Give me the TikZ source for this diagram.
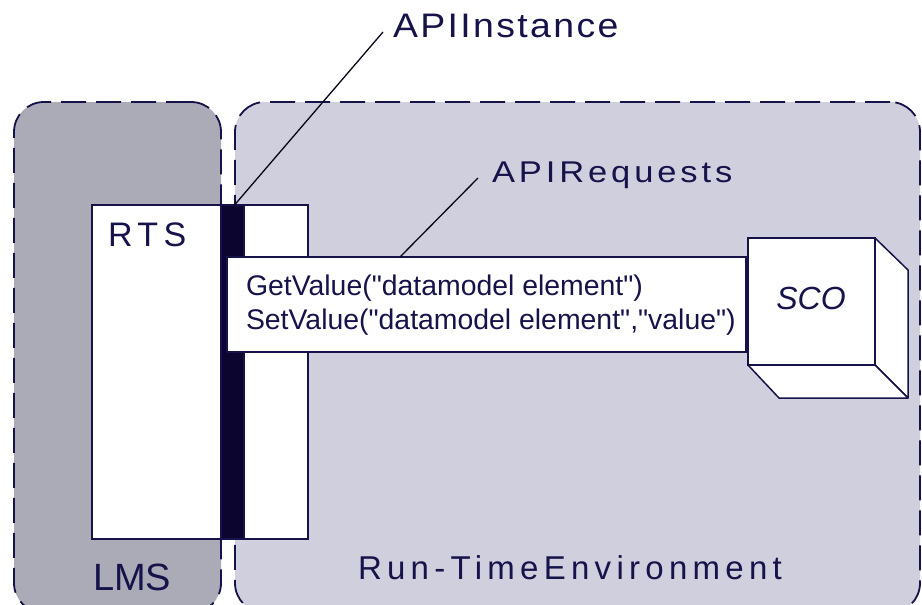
\documentclass[tikz,border=0pt]{standalone}
\usepackage{fontspec}
\setmainfont{Liberation Sans}
\newfontfamily\rawsans{Liberation Sans}
\definecolor{navy}{HTML}{16124A}
\definecolor{lmsfill}{HTML}{ABABB8}
\definecolor{rtefill}{HTML}{CFCFDD}
\definecolor{barfill}{HTML}{0B0530}
\begin{document}
\begin{tikzpicture}[x=1pt,y=-1pt,
 envbox/.style={draw=navy, line width=1.8pt, dash pattern=on 25pt off 10pt, rounded corners=30pt, inner sep=0pt, outer sep=0pt, anchor=north west},
 plainbox/.style={draw=navy, line width=1.5pt, fill=white, inner sep=0pt, outer sep=0pt, anchor=north west},
 lbl/.style={text=navy, inner sep=0pt, outer sep=0pt, anchor=base west},
 leader/.style={draw=black!70!navy, line width=1.3pt}]
\useasboundingbox (0,0) rectangle (922,605);
\clip (0,0) rectangle (922,605);
\fill[white] (0,0) rectangle (922,605);
% environments
\node[envbox, fill=lmsfill, minimum width=207pt, minimum height=511pt] (lms) at (14,102) {};
\node[envbox, fill=rtefill, minimum width=685pt, minimum height=511pt] (rte) at (235,102) {};
% RTS box and API instance bar
\node[plainbox, minimum width=216pt, minimum height=334pt] (rts) at (92,205) {};
\node[plainbox, fill=barfill, minimum width=23pt, minimum height=334pt] (bar) at (221,205) {};
% request box
\node[plainbox, minimum width=519pt, minimum height=95pt] (req) at (227,257) {};
% SCO cube
\node[plainbox, minimum width=127pt, minimum height=127pt] (sco) at (748,238) {};
\draw[navy, line width=1.5pt, fill=white, line join=round] (sco.north east) -- ++(33,32) -- ++(0,128) -- (sco.south east) -- cycle;
\draw[navy, line width=1.5pt, fill=white, line join=round] (sco.south west) -- (sco.south east) -- ++(33,33) -- ++(-129,0) -- cycle;
% labels
\node[lbl, font=\fontsize{34}{40}\selectfont\addfontfeature{FakeStretch=1.1,LetterSpace=7}] (apiinst) at (393,37) {APIInstance};
\node[lbl, font=\fontsize{30}{36}\selectfont\addfontfeature{FakeStretch=1.15,LetterSpace=13}] (apireq) at (492,182) {APIRequests};
\node[lbl, font=\fontsize{34}{40}\selectfont\addfontfeature{LetterSpace=16}] (rtslbl) at (108,246) {RTS};
\node[lbl, font=\fontsize{38}{44}\selectfont] (lmslbl) at (93,590) {LMS};
\node[lbl, font=\fontsize{33}{40}\selectfont\addfontfeature{LetterSpace=16}] (rtelbl) at (358,579) {Run-TimeEnvironment};
\node[lbl, font=\rawsans\fontsize{28.4}{34}\selectfont] (getv) at (246,295) {GetValue("datamodel element")};
\node[lbl, font=\rawsans\fontsize{28.4}{34}\selectfont] (setv) at (246,329) {SetValue("datamodel element","value")};
\node[text=navy, inner sep=0pt, anchor=base, font=\fontsize{32}{38}\selectfont\itshape] (scolbl) at (811,309) {SCO};
% leader lines
\coordinate (instEnd) at (383,32);
\coordinate (reqEnd) at (478,178);
\coordinate (reqStart) at (400,257);
\draw[leader] ([xshift=2pt]bar.north) -- (instEnd);
\draw[leader] (reqStart) -- (reqEnd);
\end{tikzpicture}
\end{document}
